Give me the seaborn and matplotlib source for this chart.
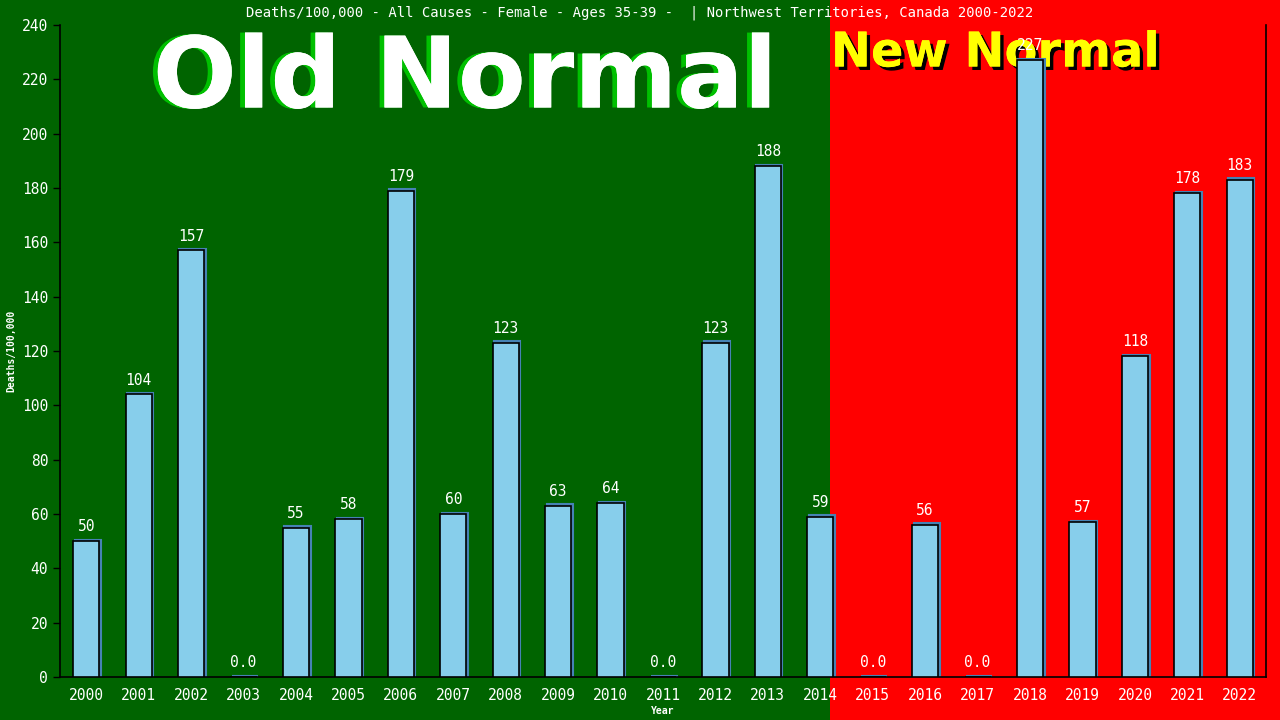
import matplotlib
matplotlib.use("Agg")
import matplotlib.pyplot as plt
import matplotlib.patches as mpatches
import matplotlib.transforms as mtransforms
import matplotlib.patheffects as pe
import seaborn as sns
import pandas as pd

years = [str(y) for y in range(2000, 2023)]
values = [50, 104, 157, 0, 55, 58, 179, 60, 123, 63, 64, 0, 123, 188, 59,
          0, 56, 0, 227, 57, 118, 178, 183]
title = "Deaths/100,000 - All Causes - Female - Ages 35-39 -  | Northwest Territories, Canada 2000-2022"
yticks = list(range(0, 241, 20))

sns.set_theme(style="white")
plt.rcParams['font.family'] = ['DejaVu Sans Mono', 'DejaVu Sans']

df = pd.DataFrame({"Year": years, "Value": values})

fig = plt.figure(figsize=(12.8, 7.2), dpi=100)
fig.patch.set_facecolor("#006400")
red = mpatches.Rectangle((830 / 1280, 0), 1 - 830 / 1280, 1,
                         transform=fig.transFigure, facecolor="#ff0000",
                         edgecolor="none", zorder=-10)
fig.patches.append(red)

fig.text(465 / 1280, 1 - 80 / 720, "Old Normal", ha="center", va="center",
         color="white", fontsize=71, fontweight="bold", family="DejaVu Sans",
         zorder=-5,
         path_effects=[pe.withSimplePatchShadow(offset=(-3.5, 0), shadow_rgbFace="#00c000", alpha=1), pe.Normal()])
fig.text(995 / 1280, 1 - 53 / 720, "New Normal", ha="center", va="center",
         color="#ffff00", fontsize=34.5, fontweight="bold", family="DejaVu Sans",
         zorder=-5,
         path_effects=[pe.withSimplePatchShadow(offset=(2.5, -2.5), shadow_rgbFace="black", alpha=1), pe.Normal()])

ax = fig.add_axes([60 / 1280, 43 / 720, 1206 / 1280, 652 / 720])
ax.set_facecolor("none")

sns.barplot(data=df, x="Year", y="Value", color="#87ceeb", width=0.5,
            edgecolor="black", linewidth=1.2, saturation=1, ax=ax, zorder=3)

off = mtransforms.ScaledTranslation(1.5 / 100, 1.5 / 100, fig.dpi_scale_trans)
for p in list(ax.patches):
    sh = mpatches.Rectangle(p.get_xy(), p.get_width(), p.get_height(),
                            transform=ax.transData + off, facecolor="#4682b4",
                            edgecolor="#4682b4", linewidth=1.5, zorder=2)
    ax.add_patch(sh)

for i, v in enumerate(values):
    lab = "0.0" if v == 0 else f"{v}"
    ax.annotate(lab, (i, v), xytext=(0, 5), textcoords="offset points",
                ha="center", va="bottom", color="white", fontsize=10.5, zorder=5)

ax.set_xlim(-0.5, 22.5)
ax.set_ylim(0, 240)
ax.set_yticks(yticks)
ax.tick_params(axis="y", labelsize=10.5, length=5, width=1, direction="out", left=True, color="black")
ax.tick_params(axis="x", labelsize=10.5, length=0, pad=8)
for lbl in ax.get_yticklabels() + ax.get_xticklabels():
    lbl.set_color("white")
for s in ["left", "bottom", "right"]:
    ax.spines[s].set_color("black")
    ax.spines[s].set_linewidth(1.2)
    ax.spines[s].set_visible(True)
ax.spines["top"].set_visible(False)
ax.set_xlabel("Year", color="white", fontsize=7, fontweight="bold", labelpad=2)
ax.set_ylabel("Deaths/100,000", color="white", fontsize=7, fontweight="bold", labelpad=4)

fig.text(0.5, 1 - 13 / 720, title, ha="center", va="center", color="white", fontsize=10)

fig.savefig("out.png", dpi=100, facecolor=fig.get_facecolor())
